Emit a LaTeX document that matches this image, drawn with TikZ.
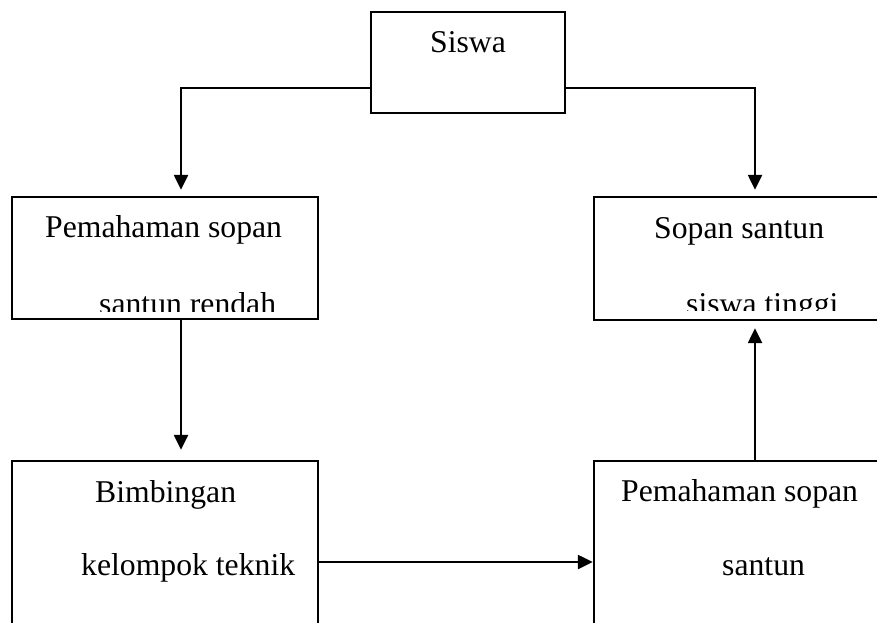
\documentclass[tikz,border=0pt]{standalone}
\usepackage{fontspec}
\setmainfont{Liberation Serif}
\usetikzlibrary{arrows.meta}
\begin{document}
\begin{tikzpicture}[x=1pt,y=-1pt,
  box/.style={draw=black,line width=2.4pt,rectangle,inner sep=0pt},
  txt/.style={anchor=base west,inner sep=0pt,font=\fontsize{31.7}{38}\selectfont},
  arr/.style={line width=2.4pt,-{Triangle[width=14pt,length=15pt]}}]
\useasboundingbox (0,0) rectangle (877,622);
\begin{scope}
\clip (0,0) rectangle (877,622);
% boxes
\node[box,minimum width=194pt,minimum height=101pt] (siswa) at (468,62.5) {};
\node[box,minimum width=306pt,minimum height=122pt] (lb1) at (165,258) {};
\node[box,minimum width=306pt,minimum height=123pt] (rb1) at (747,258.5) {};
\node[box,minimum width=306pt,minimum height=180pt] (lb2) at (165,551) {};
\node[box,minimum width=306pt,minimum height=180pt] (rb2) at (747,551) {};
% texts
\node[txt] (tsiswa) at (430,52) {Siswa};
\node[txt] (tlb1a) at (45,237) {Pemahaman sopan};
\begin{scope}
\clip (12,197) rectangle (318,311);
\node[txt] (tlb1b) at (99,314) {santun rendah};
\end{scope}
\node[txt] (trb1a) at (654,238) {Sopan santun};
\begin{scope}
\clip (594,197) rectangle (877,310);
\node[txt] (trb1b) at (686,314) {siswa tinggi};
\end{scope}
\node[txt] (tlb2a) at (95,502) {Bimbingan};
\node[txt] (tlb2b) at (81,575) {kelompok teknik};
\node[txt] (trb2a) at (621,501) {Pemahaman sopan};
\node[txt] (trb2b) at (722,575) {santun};
% connectors
\draw[arr] ([yshift=-25.5pt]siswa.west) -| ([xshift=16pt,yshift=6pt]lb1.north);
\draw[arr] ([yshift=-25.5pt]siswa.east) -| ([xshift=8pt,yshift=6pt]rb1.north);
\draw[arr] ([xshift=16pt]lb1.south) -- ([xshift=16pt,yshift=10pt]lb2.north);
\draw[arr] ([xshift=8pt]rb2.north) -- ([xshift=8pt,yshift=-7pt]rb1.south);
\draw[arr] ([yshift=-11pt]lb2.east) -- (rb2.west |- 0,562);
\end{scope}
\end{tikzpicture}
\end{document}
